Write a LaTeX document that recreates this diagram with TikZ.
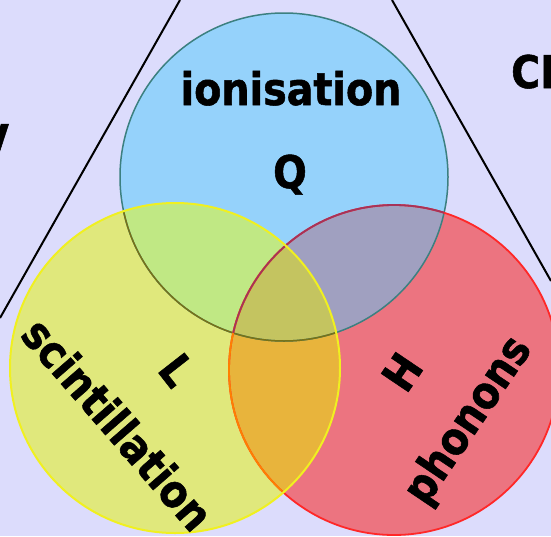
\documentclass[tikz,border=0pt]{standalone}
\usepackage{fontspec}
\newfontfamily\vennfont[FakeStretch=0.88, BoldFeatures={FakeBold=1.2}]{DejaVu Sans}
\usepackage{tikz}
\usetikzlibrary{positioning,calc}

\definecolor{bgcol}{HTML}{DCDCFC}
\definecolor{ioncol}{HTML}{95D2FB}
\definecolor{scincol}{HTML}{E0E87C}
\definecolor{phoncol}{HTML}{EC7480}
\definecolor{ionscin}{HTML}{C0E884}
\definecolor{ionphon}{HTML}{A0A0C0}
\definecolor{scinphon}{HTML}{E8B43C}
\definecolor{allthree}{HTML}{C4C460}
\definecolor{ionedge}{HTML}{3C8080}
\definecolor{scinedge}{HTML}{F0F020}
\definecolor{phonedge}{HTML}{FF2828}

\begin{document}
\begin{tikzpicture}[x=1pt, y=-1pt, label/.style={font=\vennfont\bfseries\fontsize{45}{54}\selectfont,
      inner sep=0pt}, sideline/.style={line width=2pt, black}, ionrim/.style={draw=ionedge,
      line width=1.5pt}, scinrim/.style={draw=scinedge, line width=2pt},
      phonrim/.style={draw=phonedge, line width=1.8pt}, ]

    % Background
    \fill[bgcol] (0,0) rectangle (551,536); \useasboundingbox (0,0) rectangle (551,536);

    % Centres of the three circles
    \coordinate (Q) at (284,177); \coordinate (L) at (175,368); \coordinate (H)
    at (394,370);

    % Triangle sides
    \coordinate (tl) at (180,0); \coordinate (bl) at (0,318); \coordinate (tr)
    at (392,0); \coordinate (br) at (551,281);
    \draw[sideline] (tl) -- (bl); \draw[sideline] (tr) -- (br);

    % Circle fills
    \fill[ioncol] (Q) circle[radius=164]; \fill[scincol] (L) circle[radius=165];
    \fill[phoncol] (H) circle[radius=165];

    % Overlaps
    \begin{scope} \clip (Q) circle[radius=164]; \fill[ionscin] (L)
      circle[radius=165]; \fill[ionphon] (H) circle[radius=165]; \end{scope}
    \begin{scope} \clip (L) circle[radius=165]; \fill[scinphon] (H)
      circle[radius=165]; \clip (H) circle[radius=165]; \fill[allthree] (Q)
      circle[radius=164]; \end{scope}

    % Rims, tinted where they run under another circle
    \draw[ionrim] (Q) circle[radius=164]; \draw[phonrim] (H) circle[radius=165];
    \begin{scope} \clip (L) circle[radius=165]; \draw[ionrim, draw=olive!80!black]
      (Q) circle[radius=164]; \draw[phonrim, draw=orange] (H) circle[radius=165];
    \end{scope}
    \begin{scope} \clip (Q) circle[radius=164]; \draw[phonrim, draw=purple!60!gray]
      (H) circle[radius=165]; \end{scope}
    \draw[scinrim] (L) circle[radius=165];

    % Labels
    \node[label, anchor=base] (ion) at (291,105) {ionisation};
    \node[label, anchor=base] (qlab) at (290,188) {Q};
    \node[label, rotate=-52] (llab) at (177,370) {L};
    \node[label, rotate=-49] (scin) at (118,424) {scintillation};
    \node[label, rotate=56] (hlab) at (402,372) {H};
    \node[label, rotate=56] (phon) at (469,421) {phonons};

    % Names cut by the edge
    \node[label, anchor=base west] (cdms) at (511,88) {CDMS};
    \node[label, anchor=base east] (left) at (9,157) {V};

    \end{tikzpicture}
\end{document}
